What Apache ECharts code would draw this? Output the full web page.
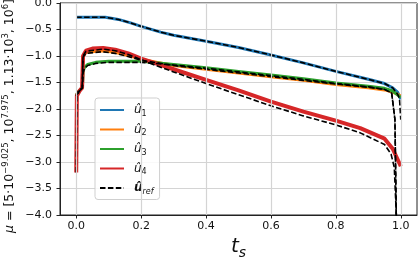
<!DOCTYPE html>
<html><head><meta charset="utf-8">
<script src="https://cdn.jsdelivr.net/npm/echarts@6/dist/echarts.min.js"></script>
<style>html,body{margin:0;padding:0;background:#fff}#c{width:419px;height:267px}</style>
</head><body><div id="c"></div>
<script>
// ---- data ----
const xTicks = [0, 0.2, 0.4, 0.6, 0.8, 1.0];
const yTicks = [-4, -3.5, -3, -2.5, -2, -1.5, -1, -0.5, 0];

const u1 = [[0,-0.27],[0.09,-0.27],[0.13,-0.31],[0.17,-0.38],[0.2,-0.44],[0.26,-0.55],[0.3,-0.61],[0.4,-0.72],[0.5,-0.84],[0.6,-0.98],[0.7,-1.13],[0.8,-1.29],[0.9,-1.44],[0.95,-1.52],[0.975,-1.6],[0.99,-1.68],[1.0,-1.82]];
const u2 = [[0,-1.75],[0.005,-1.68],[0.012,-1.64],[0.019,-1.6],[0.021,-1.0],[0.03,-0.93],[0.08,-0.9],[0.12,-0.93],[0.16,-0.99],[0.2,-1.06],[0.25,-1.12],[0.3,-1.18],[0.4,-1.25],[0.5,-1.32],[0.6,-1.39],[0.7,-1.46],[0.8,-1.54],[0.9,-1.6],[0.95,-1.64],[0.975,-1.68],[1.0,-1.75]];
const u3 = [[0,-1.75],[0.005,-1.68],[0.012,-1.64],[0.019,-1.6],[0.021,-1.3],[0.025,-1.22],[0.035,-1.16],[0.06,-1.12],[0.1,-1.1],[0.2,-1.1],[0.3,-1.16],[0.4,-1.22],[0.5,-1.29],[0.6,-1.36],[0.7,-1.43],[0.8,-1.51],[0.9,-1.57],[0.95,-1.61],[0.975,-1.66],[1.0,-1.78]];
const u4 = [[0,-3.2],[0.002,-1.75],[0.01,-1.66],[0.018,-1.6],[0.021,-1.0],[0.03,-0.9],[0.05,-0.86],[0.083,-0.85],[0.12,-0.88],[0.16,-0.95],[0.2,-1.05],[0.25,-1.15],[0.3,-1.25],[0.4,-1.45],[0.5,-1.65],[0.6,-1.86],[0.7,-2.05],[0.8,-2.22],[0.875,-2.36],[0.95,-2.56],[0.975,-2.75],[1.0,-3.08]];

const ref1 = [[0,-0.27],[0.09,-0.27],[0.13,-0.31],[0.17,-0.38],[0.2,-0.44],[0.26,-0.55],[0.3,-0.61],[0.4,-0.72],[0.5,-0.84],[0.6,-0.98],[0.7,-1.13],[0.8,-1.29],[0.9,-1.44],[0.95,-1.52],[0.975,-1.6],[0.99,-1.72],[0.996,-1.8],[1.0,-2.2]];
const ref2 = [[0,-1.75],[0.005,-1.68],[0.012,-1.64],[0.019,-1.6],[0.021,-1.02],[0.03,-0.95],[0.08,-0.92],[0.12,-0.95],[0.16,-1.01],[0.2,-1.08],[0.25,-1.13],[0.3,-1.18],[0.4,-1.25],[0.5,-1.32],[0.6,-1.39],[0.7,-1.46],[0.8,-1.53],[0.9,-1.59],[0.95,-1.63],[0.972,-1.7],[0.982,-2.2],[0.986,-3.96],[0.988,-4.3]];
const ref3 = [[0,-1.75],[0.005,-1.68],[0.012,-1.64],[0.019,-1.6],[0.021,-1.32],[0.025,-1.24],[0.035,-1.18],[0.06,-1.14],[0.1,-1.12],[0.2,-1.12],[0.3,-1.17],[0.4,-1.23],[0.5,-1.3],[0.6,-1.37],[0.7,-1.44],[0.8,-1.52],[0.9,-1.58],[0.95,-1.63],[0.972,-1.7],[0.982,-2.2],[0.986,-3.96],[0.988,-4.3]];
const ref4 = [[0,-3.2],[0.002,-1.75],[0.01,-1.66],[0.018,-1.6],[0.021,-1.0],[0.03,-0.91],[0.083,-0.87],[0.12,-0.9],[0.16,-0.97],[0.2,-1.07],[0.25,-1.19],[0.3,-1.3],[0.4,-1.52],[0.5,-1.73],[0.6,-1.94],[0.7,-2.13],[0.8,-2.3],[0.875,-2.45],[0.95,-2.67],[0.97,-2.85],[0.98,-3.1],[0.986,-3.96],[0.988,-4.3]];

const seriesNames = ['u1','u2','u3','u4','ref'];
const colors = {u1:'#1f77b4', u2:'#ff7f0e', u3:'#2ca02c', u4:'#d62728'};
const yTitle = '{m|\u03bc}{r| = [5\u00b710}{p|\u22129.025}{r|, 10}{p|7.975}{r|, 1.13\u00b710}{p|3}{r|, 10}{p|6}{r|]}';

const fmt = v => (Math.abs(v) < 1e-9 ? '0.0' : v.toFixed(1).replace('-', '\u2212'));

function colored(name, data, width) {
  return {type:'line', name, data, showSymbol:false, symbol:'none', z:3,
    lineStyle:{color:colors[name], width}, itemStyle:{color:colors[name]}, clip:true};
}
function dashed(data) {
  return {type:'line', name:'ref', data, showSymbol:false, symbol:'none', z:4,
    lineStyle:{color:'#000', width:1.6, type:[5.5,2.4]}, itemStyle:{color:'#000'}, clip:true};
}

const chart = echarts.init(document.getElementById('c'), null, {renderer:'canvas'});
const labelFont = {fontFamily:'DejaVu Sans', fontSize:11, color:'#111'};

chart.setOption({
  animation:false,
  backgroundColor:'#fff',
  grid:{left:60, right:2, top:3, bottom:52, outerBoundsMode:'none', containLabel:false,
    show:true, borderColor:'#222', borderWidth:1, backgroundColor:'transparent'},
  graphic:[{
    type:'text', x:10, y:116, rotation:Math.PI/2, silent:true,
    style:{text:yTitle, align:'center', verticalAlign:'middle', fill:'#111',
      rich:{
        m:{fontFamily:'DejaVu Sans', fontStyle:'italic', fontSize:12.5, lineHeight:17, fill:'#111'},
        r:{fontFamily:'DejaVu Sans', fontSize:12.5, lineHeight:17, fill:'#111'},
        p:{fontFamily:'DejaVu Sans', fontSize:8.5, lineHeight:9, verticalAlign:'top', fill:'#111'}
      }}
  }],
  legend:{
    orient:'vertical', left:95, top:98, itemWidth:24, itemHeight:14, itemGap:6,
    padding:[6,6,4,4], backgroundColor:'rgba(255,255,255,0.85)', borderColor:'#cfcfcf', borderWidth:1, borderRadius:3,
    data:seriesNames,
    itemStyle:{opacity:0, borderWidth:0},
    lineStyle:{width:2},
    formatter: n => n === 'ref' ? '{b|\u00fb}{s|ref}' : '{a|\u00fb}{n|' + n.slice(1) + '}',
    textStyle:{fontFamily:'DejaVu Sans', color:'#111', rich:{
      a:{fontFamily:'DejaVu Sans', fontStyle:'italic', fontSize:12, lineHeight:15, padding:[0,0,0,5], color:'#111'},
      b:{fontFamily:'DejaVu Sans', fontStyle:'italic', fontWeight:'bold', fontSize:12, lineHeight:15, padding:[0,0,0,5], color:'#111'},
      n:{fontFamily:'DejaVu Sans', fontSize:8, lineHeight:8, verticalAlign:'bottom', color:'#111'},
      s:{fontFamily:'DejaVu Sans', fontStyle:'italic', fontSize:8, lineHeight:8, verticalAlign:'bottom', color:'#111'}
    }}
  },
  xAxis:{
    type:'value', min:-0.05, max:1.05,
    name:'{t|t}{s|s}', nameLocation:'middle', nameGap:11,
    nameTextStyle:{rich:{
      t:{fontFamily:'DejaVu Sans', fontStyle:'italic', fontSize:20, lineHeight:26, color:'#111'},
      s:{fontFamily:'DejaVu Sans', fontStyle:'italic', fontSize:14, lineHeight:14, verticalAlign:'bottom', color:'#111'}
    }},
    axisLine:{show:true, onZero:false, lineStyle:{color:'#222', width:1}},
    axisTick:{show:true, inside:false, length:3.5, customValues:xTicks, lineStyle:{color:'#222'}},
    axisLabel:{...labelFont, margin:6, customValues:xTicks, formatter:fmt},
    splitLine:{show:false}
  },
  yAxis:{
    type:'value', min:-4, max:0, interval:0.5,
    axisLine:{show:true, onZero:false, lineStyle:{color:'#222', width:1}},
    axisTick:{show:true, inside:false, length:3.5, lineStyle:{color:'#222'}},
    axisLabel:{...labelFont, margin:8, formatter:fmt},
    splitLine:{show:true, lineStyle:{color:'#d4d4d4', width:1.2}}
  },
  series:[
    {type:'line', name:'grid', data:[], silent:true, z:1,
      markLine:{silent:true, symbol:['none','none'], label:{show:false},
        lineStyle:{color:'#d4d4d4', width:1.2, type:'solid'},
        data: xTicks.map(v => ({xAxis:v}))}},
    colored('u1', u1, 3),
    colored('u2', u2, 3),
    colored('u3', u3, 3),
    colored('u4', u4, 4),
    dashed(ref1), dashed(ref2), dashed(ref3), dashed(ref4)
  ]
});
</script></body></html>
